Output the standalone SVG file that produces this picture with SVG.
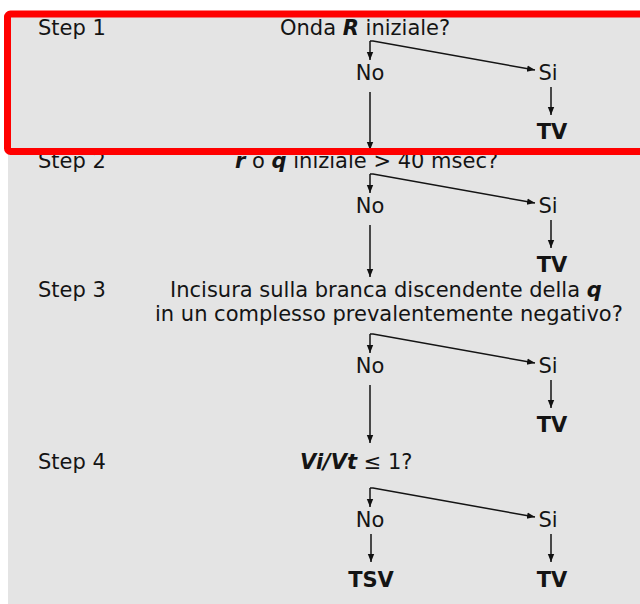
<svg xmlns="http://www.w3.org/2000/svg" width="640" height="604" viewBox="0 0 640 604">
<defs>
<marker id="ah" viewBox="0 0 10 10" refX="10" refY="5" markerWidth="8" markerHeight="8" markerUnits="userSpaceOnUse" orient="auto">
<path d="M0,1 L10,5 L0,9 Z" fill="#111"/>
</marker>
<style>
text{font-family:"DejaVu Sans",Verdana,sans-serif;font-size:21px;fill:#141414}
.b{font-weight:bold}
.bi{font-weight:bold;font-style:italic}
.m{text-anchor:middle}
.c line,.c polyline{stroke:#141414;stroke-width:1.5;fill:none}
</style>
</defs>
<rect x="0" y="0" width="640" height="604" fill="#ffffff"/>
<rect x="8" y="13" width="632" height="591" fill="#e4e4e4"/>

<g id="step1">
<text x="38" y="35">Step 1</text>
<text x="280" y="35">Onda <tspan class="bi">R</tspan> iniziale?</text>
<text class="m" x="370" y="80">No</text>
<text class="m" x="548" y="80">Si</text>
<text class="m b" x="552" y="139">TV</text>
</g>

<g id="step2">
<text x="38" y="168">Step 2</text>
<text x="235" y="168"><tspan class="bi">r</tspan> o <tspan class="bi">q</tspan> iniziale &gt; 40 msec?</text>
<text class="m" x="370" y="213">No</text>
<text class="m" x="548" y="213">Si</text>
<text class="m b" x="552" y="272">TV</text>
</g>

<g id="step3">
<text x="38" y="297">Step 3</text>
<text x="170" y="297">Incisura sulla branca discendente della <tspan class="bi">q</tspan></text>
<text x="155" y="321">in un complesso prevalentemente negativo?</text>
<text class="m" x="370" y="373">No</text>
<text class="m" x="548" y="373">Si</text>
<text class="m b" x="552" y="432">TV</text>
</g>

<g id="step4">
<text x="38" y="469">Step 4</text>
<text x="300" y="469"><tspan class="bi">Vi/Vt</tspan> ≤ 1?</text>
<text class="m" x="370" y="527">No</text>
<text class="m" x="548" y="527">Si</text>
<text class="m b" x="371" y="587">TSV</text>
<text class="m b" x="552" y="587">TV</text>
</g>

<g id="connectors" class="c">
<line x1="370" y1="41" x2="370" y2="60" marker-end="url(#ah)"/>
<polyline points="370,41 373,41 535,70" marker-end="url(#ah)"/>
<line x1="551" y1="87" x2="551" y2="115" marker-end="url(#ah)"/>
<line x1="370" y1="92" x2="370" y2="150" marker-end="url(#ah)"/>

<line x1="370" y1="174" x2="370" y2="193" marker-end="url(#ah)"/>
<polyline points="370,174 373,174 535,203" marker-end="url(#ah)"/>
<line x1="551" y1="220" x2="551" y2="248" marker-end="url(#ah)"/>
<line x1="370" y1="225" x2="370" y2="277" marker-end="url(#ah)"/>

<line x1="370" y1="334" x2="370" y2="353" marker-end="url(#ah)"/>
<polyline points="370,334 373,334 535,363" marker-end="url(#ah)"/>
<line x1="551" y1="380" x2="551" y2="408" marker-end="url(#ah)"/>
<line x1="370" y1="385" x2="370" y2="443" marker-end="url(#ah)"/>

<line x1="370" y1="488" x2="370" y2="507" marker-end="url(#ah)"/>
<polyline points="370,488 373,488 535,517" marker-end="url(#ah)"/>
<line x1="371" y1="534" x2="371" y2="562" marker-end="url(#ah)"/>
<line x1="551" y1="534" x2="551" y2="562" marker-end="url(#ah)"/>
</g>

<rect x="7.5" y="14" width="650" height="137.5" rx="3" fill="none" stroke="#ff0000" stroke-width="7"/>
</svg>
